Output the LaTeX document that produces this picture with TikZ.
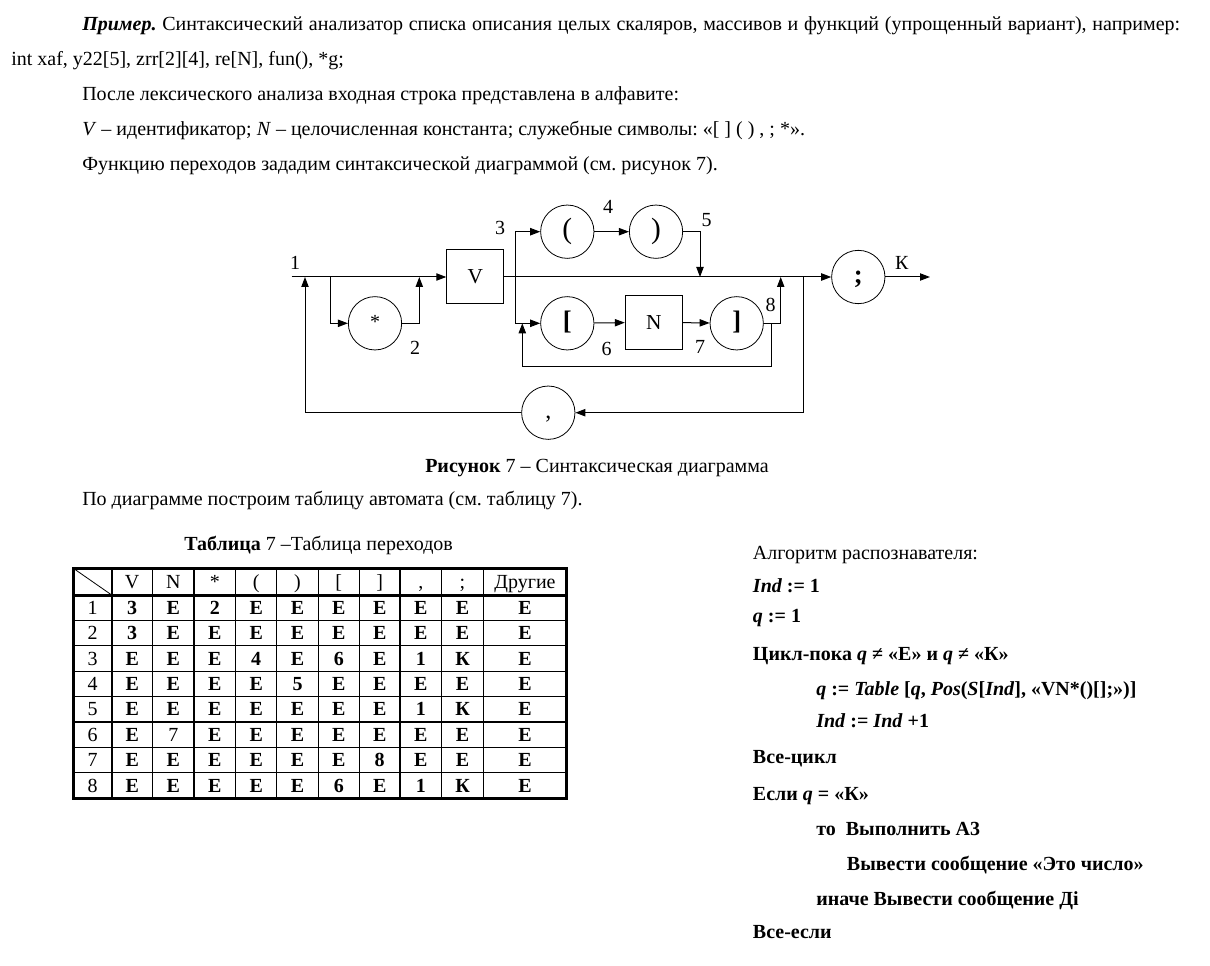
\documentclass[tikz,border=0pt]{standalone}
\usepackage{fontspec}
\setmainfont{Liberation Serif}
\usetikzlibrary{arrows.meta}
\frenchspacing
\begin{document}
\begin{tikzpicture}[x=0.75pt,y=-0.75pt,
  font=\fontsize{15}{18}\selectfont,
  txt/.style={anchor=base west, inner sep=0pt},
  circ/.style={draw, circle, minimum size=40pt, inner sep=0pt, line width=0.6pt},
  boxn/.style={draw, rectangle, minimum width=42.75pt, minimum height=40.5pt, inner sep=0pt, line width=0.75pt, font=\fontsize{16}{19}\selectfont},
  lbl/.style={inner sep=0pt},
  ln/.style={line width=0.75pt},
  arr/.style={ln, -{Triangle[length=7.5pt,width=5.5pt]}},
  cell/.style={anchor=base, inner sep=0pt},
  thick border/.style={line width=2.25pt},
  thin rule/.style={line width=1pt}]

\useasboundingbox[fill=white] (0,0) rectangle (1210,966);

% ---------- text above the diagram ----------
\node[txt] (p1) at (82,31) {\hbox to 823.5pt{\frenchspacing\textbf{\textit{Пример.}} Синтаксический анализатор списка описания целых скаляров, массивов и функций (упрощенный вариант), например:}};
\node[txt] (p2) at (11,66) {int xaf, y22[5], zrr[2][4], re[N], fun(), *g;};
\node[txt] (p3) at (82,101) {После лексического анализа входная строка представлена в алфавите:};
\node[txt] (p4) at (82,136) {\textit{V} – идентификатор; \textit{N} – целочисленная константа; служебные символы: «[ ] ( ) , ; *».};
\node[txt] (p5) at (82,171) {Функцию переходов зададим синтаксической диаграммой (см. рисунок 7).};

% ---------- diagram ----------
\node[circ, font=\fontsize{15}{18}\selectfont] (star) at (375,323.3) {*\strut};
\node[boxn] (V) at (475.3,277) {V};
\node[circ, font=\fontsize{22}{26}\selectfont] (lp) at (567.3,231.7) {(\strut};
\node[circ, font=\fontsize{22}{26}\selectfont] (rp) at (656,231.7) {)\strut};
\node[circ, font=\bfseries\fontsize{20}{24}\selectfont] (lb) at (567.3,323.3) {[\strut};
\node[boxn] (N) at (653.8,322.3) {N};
\node[circ, font=\bfseries\fontsize{20}{24}\selectfont] (rb) at (736.7,323.3) {]\strut};
\node[circ, font=\bfseries\fontsize{20}{24}\selectfont] (semi) at (858.3,277) {;\strut};
\node[circ, font=\fontsize{18}{22}\selectfont] (comma) at (548.3,412.7) {,\strut};

\node[lbl] (l1) at (295,263) {1};
\node[lbl] (l2) at (415,348) {2};
\node[lbl] (l3) at (500,228) {3};
\node[lbl] (l4) at (608,207) {4};
\node[lbl] (l5) at (706.7,220) {5};
\node[lbl] (l6) at (606.7,349) {6};
\node[lbl] (l7) at (700,346.7) {7};
\node[lbl] (l8) at (770.7,305) {8};
\node[lbl] (lK) at (901.7,263) {К};

\coordinate (start) at (291.7,277);
\coordinate (j1) at (305,277);
\coordinate (j2) at (330,277);
\coordinate (j3) at (419.3,277);
\coordinate (b3) at (515.7,277);
\coordinate (m5) at (700,277);
\coordinate (m8) at (780.7,277);
\coordinate (c1) at (803.3,277);
\coordinate (r8) at (771.7,323.3);
\coordinate (r8b) at (771.7,366);
\coordinate (r6) at (522.3,323.3);
\coordinate (out) at (930,277);

\draw[arr] (start) -- (V.west);
\draw[arr] (V.east) -- (semi.west);
\draw[arr] (j2) |- (star.west);
\draw[arr] (star.east) -| (j3);
\draw[arr] (b3) |- (lp.west);
\draw[arr] (b3) |- (lb.west);
\draw[arr] (lp) -- (rp);
\draw[arr] (rp.east) -| (m5);
\draw[arr] (lb) -- (N);
\draw[arr] (N) -- (rb);
\draw[arr] (rb.east) -| (m8);
\draw[arr] (r8) -- (r8b) -| (r6);
\draw[arr] (c1) |- (comma.east);
\draw[arr] (comma.west) -| (j1);
\draw[arr] (semi.east) -- (out);

% ---------- captions ----------
\node[txt] (cap) at (425,472) {\textbf{Рисунок} 7 – Синтаксическая диаграмма};
\node[txt] (p6) at (82,505) {По диаграмме построим таблицу автомата (см. таблицу 7).};
\node[txt] (tcap) at (184,550) {\textbf{Таблица} 7 –Таблица переходов};

% ---------- table ----------
\foreach \x in {152.7,194,235.7,276.7,318.3,359.3,400,441.7,483.3}
  \draw[thin rule] (\x,568.3) -- (\x,798.3);
\foreach \k in {1,...,7}
  \draw[thin rule] (73.3,{595+25.4*\k}) -- (566.7,{595+25.4*\k});
\draw[line width=1.5pt] (111.7,568.3) -- (111.7,798.3);
\draw[line width=0.6pt] (73.3,568.3) -- (111.7,595);
\draw[thick border] (73.3,595) -- (566.7,595);
\draw[thick border] (73.3,568.3) rectangle (566.7,798.3);

\node[cell] (hV) at (132.2,588) {V};
\node[cell] (hN) at (173.3,588) {N};
\node[cell] (hS) at (214.8,588) {*};
\node[cell] (hLP) at (256.2,588) {(};
\node[cell] (hRP) at (297.5,588) {)};
\node[cell] (hLB) at (338.8,588) {[};
\node[cell] (hRB) at (379.7,588) {]};
\node[cell] (hC) at (420.8,588) {,};
\node[cell] (hSC) at (462.5,588) {;};
\node[cell] (hO) at (525,588) {Другие};

\foreach \row [count=\i] in {
  {1,3,Е,2,Е,Е,Е,Е,Е,Е,Е},
  {2,3,Е,Е,Е,Е,Е,Е,Е,Е,Е},
  {3,Е,Е,Е,4,Е,6,Е,1,К,Е},
  {4,Е,Е,Е,Е,5,Е,Е,Е,Е,Е},
  {5,Е,Е,Е,Е,Е,Е,Е,1,К,Е},
  {6,Е,{\mdseries 7},Е,Е,Е,Е,Е,Е,Е,Е},
  {7,Е,Е,Е,Е,Е,Е,8,Е,Е,Е},
  {8,Е,Е,Е,Е,Е,6,Е,1,К,Е}}
{
  \foreach \c [count=\j from 0] in \row {
    \pgfmathsetmacro\cx{{92.5,132.2,173.3,214.8,256.2,297.5,338.8,379.7,420.8,462.5,525}[\j]}
    \node[cell] (t-\i-\j) at (\cx,{595+25.4*\i-6.2}) {\ifnum\j=0 \c\else\bfseries\c\fi};
  }
}

% ---------- algorithm ----------
\node[txt] (a0) at (752.7,559) {Алгоритм распознавателя:};
\node[txt] (a1) at (752.7,592) {\bfseries\itshape Ind \upshape:= 1};
\node[txt] (a2) at (752.7,622) {\bfseries\itshape q \upshape:= 1};
\node[txt] (a3) at (752.7,660) {\bfseries Цикл-пока \textit{q} ≠ «Е» и \textit{q} ≠ «К»};
\node[txt] (a4) at (816,695) {\bfseries\textit{q} := \textit{Table} [\textit{q}, \textit{Pos}(\textit{S}[\textit{Ind}], «VN*()[];»)]};
\node[txt] (a5) at (816,727) {\bfseries\textit{Ind} := \textit{Ind} +1};
\node[txt] (a6) at (752.7,763) {\bfseries Все-цикл};
\node[txt] (a7) at (752.7,800) {\bfseries Если \textit{q} = «К»};
\node[txt] (a8) at (816,835) {\bfseries то\ \ Выполнить А3};
\node[txt] (a9) at (846.7,870) {\bfseries Вывести сообщение «Это число»};
\node[txt] (a10) at (816,905) {\bfseries иначе Вывести сообщение Ді};
\node[txt] (a11) at (752.7,938) {\bfseries Все-если};
\end{tikzpicture}
\end{document}
